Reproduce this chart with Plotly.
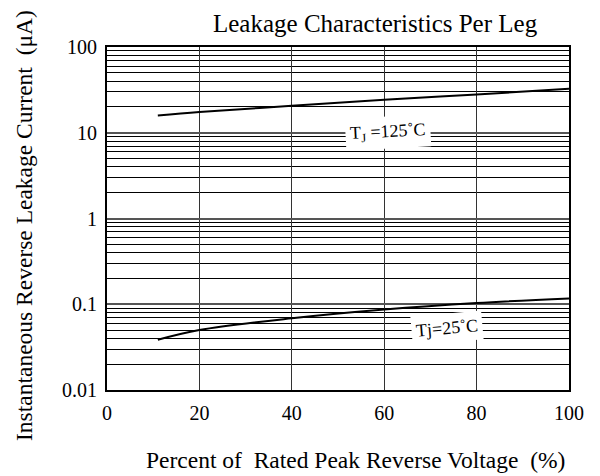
import plotly.graph_objects as go

# Data
pct_voltage = [11, 20, 40, 60, 80, 100]
i_125c = [15.9, 17.5, 20.6, 24.2, 28.0, 32.5]
i_25c = [0.0385, 0.050, 0.0687, 0.087, 0.1035, 0.117]

x_ticks = [0, 20, 40, 60, 80, 100]
y_ticks = [0.01, 0.1, 1, 10, 100]
y_tick_labels = ["0.01", "0.1", "1", "10", "100"]

FONT = "Liberation Serif, Times New Roman, serif"
NB = "\u00a0"

fig = go.Figure()
fig.add_trace(go.Scatter(x=pct_voltage, y=i_125c, mode="lines",
                         line=dict(color="black", width=2, shape="spline"),
                         showlegend=False, hoverinfo="skip"))
fig.add_trace(go.Scatter(x=pct_voltage, y=i_25c, mode="lines",
                         line=dict(color="black", width=2, shape="spline"),
                         showlegend=False, hoverinfo="skip"))

# page has an 8px body margin, so the figure is 592x468 placed at (8, 8)
fig.update_layout(
    width=592, height=468,
    margin=dict(l=99, r=31, t=39, b=86),
    paper_bgcolor="white", plot_bgcolor="white",
    font=dict(family=FONT, color="black", size=20),
    showlegend=False,
)

fig.update_xaxes(
    range=[0, 100], tickvals=x_ticks, ticks="", ticklen=0,
    showgrid=True, gridcolor="#333333", gridwidth=1,
    showline=True, linecolor="black", linewidth=2, mirror=True,
    zeroline=False, tickfont=dict(size=20, family=FONT),
    ticklabelstandoff=4,
)
fig.update_yaxes(
    type="log", range=[-2, 2], tickvals=y_ticks, ticktext=y_tick_labels,
    ticks="", showgrid=True, gridcolor="#555555", gridwidth=2,
    minor=dict(dtick="D1", showgrid=True, gridcolor="black", gridwidth=1, ticks=""),
    showline=True, linecolor="black", linewidth=2, mirror=True,
    zeroline=False, tickfont=dict(size=20, family=FONT),
    ticklabelstandoff=4,
)

fig.add_annotation(x=60.8, y=1.0, xref="x", yref="y",
                   text="T<sub>J</sub> =125˚C", showarrow=False,
                   textangle=-3, bgcolor="white", borderpad=4,
                   font=dict(size=18, family=FONT))
fig.add_annotation(x=73.6, y=-1.28, xref="x", yref="y",
                   text="Tj=25˚C", showarrow=False,
                   textangle=-5, bgcolor="white", borderpad=4,
                   font=dict(size=18, family=FONT))

fig.add_annotation(x=(375 - 107) / 462, y=(390 - 8) / 343, xref="paper", yref="paper",
                   xanchor="center", yanchor="top",
                   text="Leakage Characteristics Per Leg", showarrow=False,
                   font=dict(size=25, family=FONT))
fig.add_annotation(x=(24 - 107) / 462, y=(390 - 226) / 343, xref="paper", yref="paper",
                   xanchor="center", yanchor="middle",
                   text="Instantaneous Reverse Leakage Current" + NB + NB + "(μA)",
                   showarrow=False, textangle=-90, font=dict(size=23.5, family=FONT))
fig.add_annotation(x=(355 - 107) / 462, y=(390 - 460) / 343, xref="paper", yref="paper",
                   xanchor="center", yanchor="middle",
                   text="Percent of" + NB + NB + "Rated Peak Reverse Voltage" + NB + NB + "(%)",
                   showarrow=False, font=dict(size=23.5, family=FONT))

fig.write_html("out.html")
